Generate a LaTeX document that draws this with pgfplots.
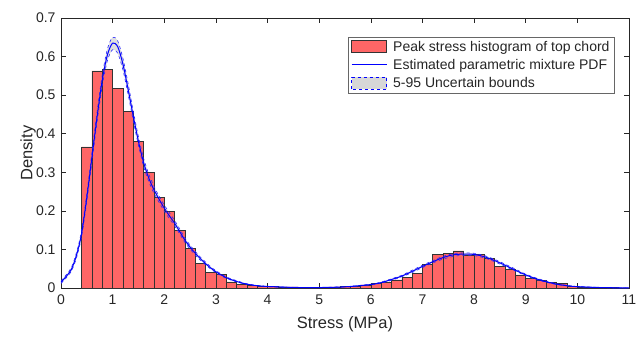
\documentclass[border=0pt]{standalone}
\usepackage{pgfplots}
\pgfplotsset{compat=1.18}
\usepackage{pgfplotstable}
\usepgfplotslibrary{fillbetween}
\usepackage{fontspec}
\setmainfont{Liberation Sans}
\definecolor{histred}{RGB}{255,102,102}
\definecolor{bandgray}{RGB}{215,215,215}
\definecolor{txt}{RGB}{38,38,38}

\pgfplotstableread{
x y
0.4 0.366
0.6 0.563
0.8 0.567
1.0 0.518
1.2 0.458
1.4 0.380
1.6 0.300
1.8 0.234
2.0 0.198
2.2 0.150
2.4 0.102
2.6 0.064
2.8 0.041
3.0 0.035
3.2 0.016
3.4 0.010
3.6 0.007
3.8 0.005
4.0 0.004
4.2 0.003
4.4 0.003
4.6 0.002
4.8 0.002
5.0 0.002
5.2 0.003
5.4 0.004
5.6 0.005
5.8 0.008
6.0 0.012
6.2 0.015
6.4 0.021
6.6 0.027
6.8 0.037
7.0 0.062
7.2 0.087
7.4 0.090
7.6 0.096
7.8 0.086
8.0 0.088
8.2 0.077
8.4 0.057
8.6 0.048
8.8 0.034
9.0 0.025
9.2 0.019
9.4 0.015
9.6 0.012
9.8 0.004
10.0 0.002
10.2 0.001
10.4 0.001
10.6 0.0006
10.8 0.0004
11.0 0.0004
}\histdata

\pgfplotstableread{
x mean lo hi
0.0 0.015 0.012 0.018
0.1 0.030 0.026 0.034
0.2 0.048 0.043 0.053
0.3 0.085 0.078 0.092
0.4 0.142 0.134 0.150
0.5 0.235 0.225 0.245
0.6 0.340 0.328 0.352
0.7 0.445 0.432 0.458
0.8 0.540 0.525 0.553
0.9 0.605 0.590 0.620
1.0 0.635 0.618 0.650
1.1 0.625 0.608 0.640
1.2 0.580 0.565 0.595
1.3 0.515 0.502 0.530
1.4 0.445 0.433 0.458
1.5 0.380 0.370 0.392
1.6 0.325 0.315 0.336
1.7 0.285 0.276 0.295
1.8 0.255 0.246 0.264
1.9 0.230 0.222 0.238
2.0 0.207 0.199 0.215
2.1 0.187 0.180 0.195
2.2 0.168 0.161 0.175
2.3 0.146 0.140 0.153
2.4 0.124 0.118 0.130
2.5 0.106 0.101 0.111
2.6 0.090 0.085 0.095
2.7 0.076 0.072 0.080
2.8 0.063 0.060 0.067
2.9 0.052 0.049 0.055
3.0 0.042 0.040 0.045
3.2 0.027 0.025 0.029
3.4 0.017 0.016 0.019
3.6 0.010 0.009 0.011
3.8 0.006 0.0055 0.0068
4.0 0.004 0.0035 0.0045
4.5 0.0015 0.0012 0.0018
5.0 0.0012 0.0009 0.0015
5.5 0.003 0.0025 0.0035
6.0 0.009 0.008 0.010
6.2 0.014 0.0125 0.0155
6.4 0.022 0.020 0.024
6.6 0.031 0.029 0.033
6.8 0.043 0.040 0.046
7.0 0.056 0.053 0.059
7.2 0.068 0.065 0.071
7.4 0.079 0.075 0.082
7.6 0.086 0.082 0.089
7.8 0.088 0.085 0.091
8.0 0.087 0.084 0.090
8.2 0.081 0.078 0.084
8.4 0.071 0.068 0.074
8.6 0.059 0.056 0.062
8.8 0.046 0.044 0.049
9.0 0.034 0.032 0.036
9.2 0.024 0.022 0.026
9.4 0.016 0.015 0.018
9.6 0.010 0.009 0.011
9.8 0.006 0.0055 0.0068
10.0 0.0035 0.003 0.004
10.5 0.001 0.0008 0.0012
11.0 0.0003 0.0002 0.0004
}\pdfdata

\begin{document}
\begin{tikzpicture}
\begin{axis}[
  scale only axis, width=568pt, height=270pt,
  xmin=0, xmax=11, ymin=0, ymax=0.7,
  xtick={0,1,2,3,4,5,6,7,8,9,10,11},
  ytick={0,0.1,0.2,0.3,0.4,0.5,0.6,0.7},
  tick align=inside, major tick length=5pt,
  axis line style={black!85, line width=0.6pt},
  every tick/.style={black!85, line width=0.6pt},
  /pgf/number format/assume math mode=true,
  ticklabel style={font=\fontsize{14}{16}\selectfont, text=txt},
  yticklabel style={/pgf/number format/fixed, /pgf/number format/precision=1, xshift=-2pt},
  xticklabel style={yshift=-3pt},
  xlabel={Stress (MPa)}, ylabel={Density},
  label style={font=\fontsize{16.5}{18}\selectfont, text=txt},
  xlabel style={at={(axis description cs:0.5,-0.135)}, anchor=center},
  ylabel style={at={(axis description cs:-0.058,0.5)}, anchor=center},
  legend style={at={(axis description cs:0.975,0.931)}, anchor=north east,
    font=\fontsize{14}{16}\selectfont, draw=black!60, line width=0.6pt,
    row sep=2.5pt, inner xsep=3pt, inner ysep=2pt,
    /tikz/every odd column/.append style={column sep=4pt}},
  legend cell align=left,
]
\addplot[ybar interval, fill=histred, draw=black!80, line width=0.6pt, forget plot]
  table[x=x, y=y]{\histdata};
\addplot[name path=lo, draw=none, smooth, forget plot] table[x=x, y=lo]{\pdfdata};
\addplot[name path=hi, draw=none, smooth, forget plot] table[x=x, y=hi]{\pdfdata};
\addplot[bandgray, opacity=0.8, forget plot] fill between[of=lo and hi];
\addplot[blue!85!white, dashed, line width=0.6pt, smooth, forget plot] table[x=x, y=lo]{\pdfdata};
\addplot[blue!85!white, dashed, line width=0.6pt, smooth, forget plot] table[x=x, y=hi]{\pdfdata};
\addplot[blue, line width=1pt, smooth, forget plot] table[x=x, y=mean]{\pdfdata};

\addlegendimage{legend image code/.code={\draw[fill=histred, draw=black!80, line width=0.6pt] (0pt,-6pt) rectangle (35pt,6pt);}}
\addlegendentry{\textcolor{txt}{Peak stress histogram of top chord}}
\addlegendimage{legend image code/.code={\draw[blue, line width=1pt] (0pt,0pt) -- (35pt,0pt);}}
\addlegendentry{\textcolor{txt}{Estimated parametric mixture PDF}}
\addlegendimage{legend image code/.code={\draw[fill=bandgray, draw=blue, dashed, line width=0.6pt] (0pt,-6pt) rectangle (35pt,6pt);}}
\addlegendentry{\textcolor{txt}{5-95 Uncertain bounds}}
\end{axis}
\pgfresetboundingbox
\path ([shift={(-61pt,-50pt)}]current axis.south west) rectangle ([shift={(8pt,18pt)}]current axis.north east);
\end{tikzpicture}
\end{document}
